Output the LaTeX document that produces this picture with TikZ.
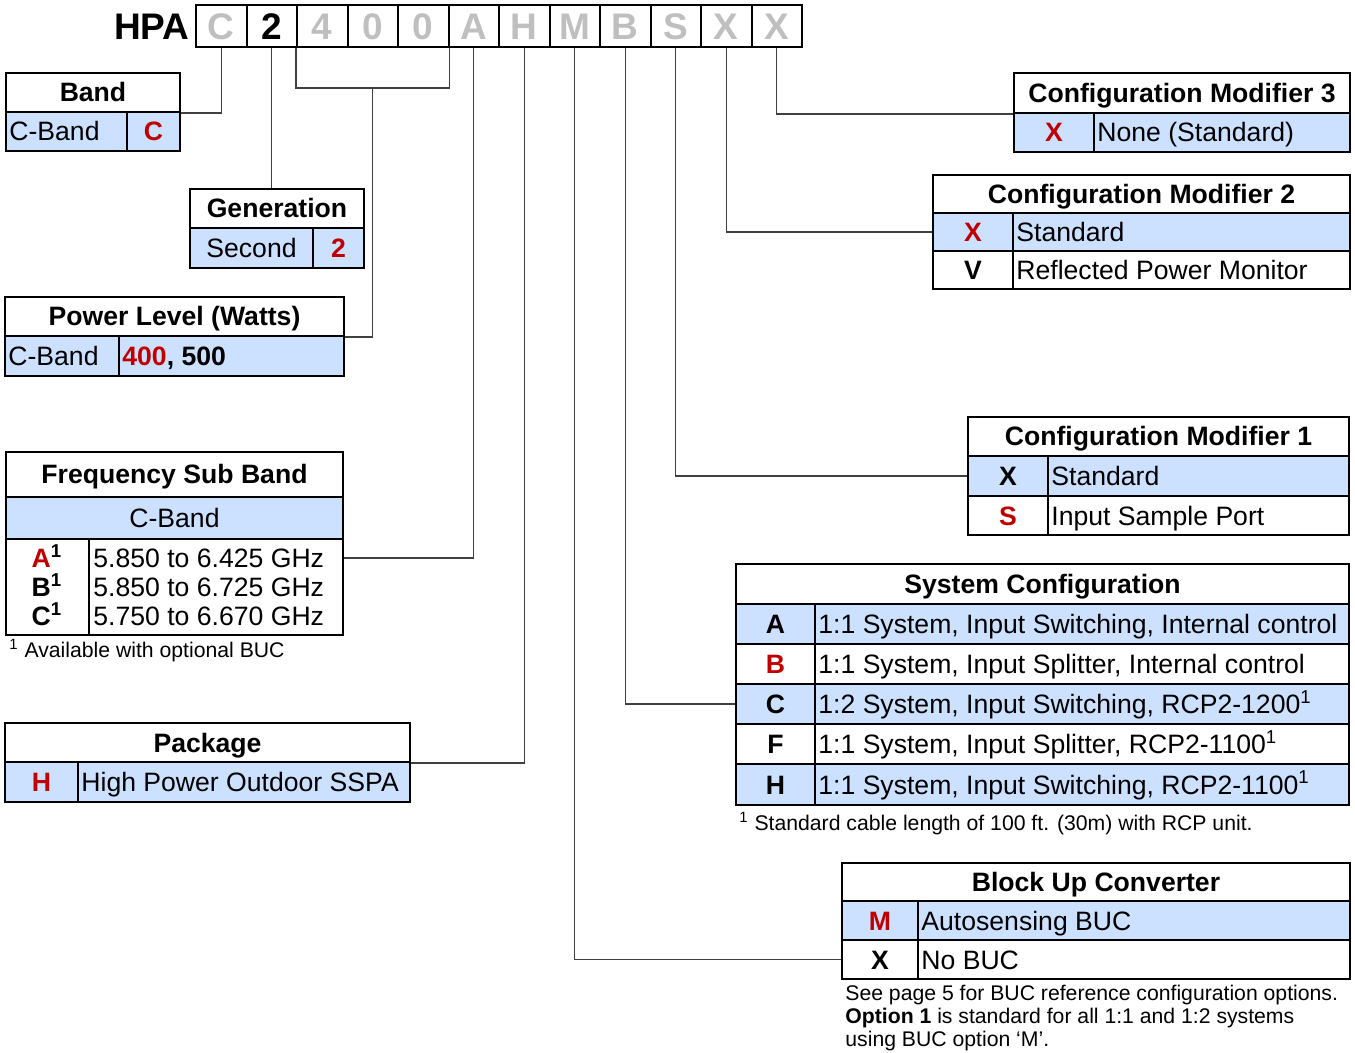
\documentclass[tikz,border=0pt]{standalone}
\usepackage{fontspec}
\setmainfont{Liberation Sans}
\usetikzlibrary{fit}

\definecolor{rowblue}{HTML}{CCE0FF}
\definecolor{codered}{HTML}{C00000}
\definecolor{codegrey}{HTML}{BFBFBF}
\definecolor{wiregrey}{HTML}{404040}
\newcommand\tblfont{\fontsize{13.3}{16}\selectfont}
\newcommand\notefont{\fontsize{10.6}{11.5}\selectfont}
\newcommand\codefont{\fontsize{18.5}{20}\selectfont\bfseries}

\tikzset{
  tbl/.style={draw, line width=1pt, inner sep=0pt},
  row/.style={tbl, fill=rowblue},
  cell/.style={tbl},
  ctr/.style={inner sep=0pt, text height=9.5pt, text depth=0pt},
  hdrtxt/.style={ctr, font=\tblfont\bfseries},
  keytxt/.style={ctr, font=\tblfont\bfseries},
  lbl/.style={ctr, anchor=west},
  note/.style={anchor=west, inner sep=0pt, font=\notefont},
  codebox/.style={draw, line width=1pt, inner sep=0pt},
  codetxt/.style={inner sep=0pt, font=\codefont, text height=13.3pt, text depth=0pt},
  wire/.style={draw=wiregrey, line width=0.6pt},
}

\begin{document}
\begin{tikzpicture}[x=0.5pt, y=-0.5pt, every node/.style={font=\tblfont}]
  \useasboundingbox (0,0) rectangle (1355,1053);

  % Bestellcode oben
  \node[codetxt, anchor=east] (hpa) at (190,26) {HPA};
  \foreach \l/\c [count=\i] in {C/codegrey, 2/black, 4/codegrey, 0/codegrey, 0/codegrey, A/codegrey,
                                H/codegrey, M/codegrey, B/codegrey, S/codegrey, X/codegrey, X/codegrey}
  {
    \node[codebox, fit={({196+50.5*(\i-1)},5) ({196+50.5*\i},47)}] (k\i) {};
    \node[codetxt, text=\c] (kt\i) at (k\i.center) {\l};
  }

  % Band
  \node[tbl, fit={(6,73) (180,112)}] (bandhead) {};
  \node[row, fit={(6,112) (127,151)}] (bandC) {};
  \node[row, fit={(127,112) (180,151)}] (bandCk) {};
  \node[hdrtxt] (bandheadt) at (bandhead.center) {Band};
  \node[lbl] (bandCt) at ([xshift=2pt]bandC.west) {C-Band};
  \node[keytxt, text=codered] (bandCkt) at (bandCk.center) {C};

  % Generation
  \node[tbl, fit={(190,189) (364,228)}] (genhead) {};
  \node[row, fit={(190,228) (313,268)}] (gen2) {};
  \node[row, fit={(313,228) (364,268)}] (gen2k) {};
  \node[hdrtxt] (genheadt) at (genhead.center) {Generation};
  \node[ctr] (gen2t) at (gen2.center) {Second};
  \node[keytxt, text=codered] (gen2kt) at (gen2k.center) {2};

  % Leistung
  \node[tbl, fit={(5,297) (344,336)}] (pwrhead) {};
  \node[row, fit={(5,336) (119,376)}] (pwrband) {};
  \node[row, fit={(119,336) (344,376)}] (pwrval) {};
  \node[hdrtxt] (pwrheadt) at (pwrhead.center) {Power Level (Watts)};
  \node[lbl] (pwrbandt) at ([xshift=2pt]pwrband.west) {C-Band};
  \node[lbl] (pwrvalt) at ([xshift=2pt]pwrval.west) {\textbf{\textcolor{codered}{400}, 500}};

  % Frequenz-Subband
  \node[tbl, fit={(6,452) (343,497)}] (fsbhead) {};
  \node[row, fit={(6,497) (343,539)}] (fsbband) {};
  \node[cell, fit={(6,539) (89,635)}] (fsbkeys) {};
  \node[cell, fit={(89,539) (343,635)}] (fsblist) {};
  \node[hdrtxt] (fsbheadt) at (fsbhead.center) {Frequency Sub Band};
  \node[ctr] (fsbbandt) at (fsbband.center) {C-Band};
  \node[keytxt] (fsbA) at (47,558) {\textcolor{codered}{A}\textsuperscript{1}};
  \node[keytxt] (fsbB) at (47,587) {B\textsuperscript{1}};
  \node[keytxt] (fsbC) at (47,616) {C\textsuperscript{1}};
  \node[lbl] (fA) at (93,558) {5.850 to 6.425 GHz};
  \node[lbl] (fB) at (93,587) {5.850 to 6.725 GHz};
  \node[lbl] (fC) at (93,616) {5.750 to 6.670 GHz};
  \node[note] (fsbnote) at (9,651) {\textsuperscript{1} Available with optional BUC};

  % Gehaeuse
  \node[tbl, fit={(5,723) (410,762)}] (pkghead) {};
  \node[row, fit={(5,762) (78,802)}] (pkgHk) {};
  \node[row, fit={(78,762) (410,802)}] (pkgH) {};
  \node[hdrtxt] (pkgheadt) at (pkghead.center) {Package};
  \node[keytxt, text=codered] (pkgHkt) at (pkgHk.center) {H};
  \node[lbl] (pkgHt) at ([xshift=2pt]pkgH.west) {High Power Outdoor SSPA};

  % Konfiguration 3
  \node[tbl, fit={(1014,73) (1350,113)}] (cm3head) {};
  \node[row, fit={(1014,113) (1094,152)}] (cm3Xk) {};
  \node[row, fit={(1094,113) (1350,152)}] (cm3X) {};
  \node[hdrtxt] (cm3headt) at (cm3head.center) {Configuration Modifier 3};
  \node[keytxt, text=codered] (cm3Xkt) at (cm3Xk.center) {X};
  \node[lbl] (cm3Xt) at ([xshift=2pt]cm3X.west) {None (Standard)};

  % Konfiguration 2
  \node[tbl, fit={(933,175) (1350,213)}] (cm2head) {};
  \node[row, fit={(933,213) (1013,251)}] (cm2Xk) {};
  \node[row, fit={(1013,213) (1350,251)}] (cm2X) {};
  \node[cell, fit={(933,251) (1013,289)}] (cm2Vk) {};
  \node[cell, fit={(1013,251) (1350,289)}] (cm2V) {};
  \node[hdrtxt] (cm2headt) at (cm2head.center) {Configuration Modifier 2};
  \node[keytxt, text=codered] (cm2Xkt) at (cm2Xk.center) {X};
  \node[keytxt] (cm2Vkt) at (cm2Vk.center) {V};
  \node[lbl] (cm2Xt) at ([xshift=2pt]cm2X.west) {Standard};
  \node[lbl] (cm2Vt) at ([xshift=2pt]cm2V.west) {Reflected Power Monitor};

  % Konfiguration 1
  \node[tbl, fit={(968,417) (1349,456)}] (cm1head) {};
  \node[row, fit={(968,456) (1048,496)}] (cm1Xk) {};
  \node[row, fit={(1048,456) (1349,496)}] (cm1X) {};
  \node[cell, fit={(968,496) (1048,535)}] (cm1Sk) {};
  \node[cell, fit={(1048,496) (1349,535)}] (cm1S) {};
  \node[hdrtxt] (cm1headt) at (cm1head.center) {Configuration Modifier 1};
  \node[keytxt] (cm1Xkt) at (cm1Xk.center) {X};
  \node[keytxt, text=codered] (cm1Skt) at (cm1Sk.center) {S};
  \node[lbl] (cm1Xt) at ([xshift=2pt]cm1X.west) {Standard};
  \node[lbl] (cm1St) at ([xshift=2pt]cm1S.west) {Input Sample Port};

  % Systemkonfiguration
  \node[tbl, fit={(736,564) (1349,604)}] (schead) {};
  \node[row, fit={(736,604) (815,644)}] (scAk) {};
  \node[row, fit={(815,604) (1349,644)}] (scA) {};
  \node[cell, fit={(736,644) (815,684)}] (scBk) {};
  \node[cell, fit={(815,644) (1349,684)}] (scB) {};
  \node[row, fit={(736,684) (815,724)}] (scCk) {};
  \node[row, fit={(815,684) (1349,724)}] (scC) {};
  \node[cell, fit={(736,724) (815,764)}] (scFk) {};
  \node[cell, fit={(815,724) (1349,764)}] (scF) {};
  \node[row, fit={(736,764) (815,805)}] (scHk) {};
  \node[row, fit={(815,764) (1349,805)}] (scH) {};
  \node[hdrtxt] (scheadt) at (schead.center) {System Configuration};
  \node[keytxt] (scAkt) at (scAk.center) {A};
  \node[keytxt, text=codered] (scBkt) at (scBk.center) {B};
  \node[keytxt] (scCkt) at (scCk.center) {C};
  \node[keytxt] (scFkt) at (scFk.center) {F};
  \node[keytxt] (scHkt) at (scHk.center) {H};
  \node[lbl] (scAt) at ([xshift=2pt]scA.west) {1:1 System, Input Switching, Internal control};
  \node[lbl] (scBt) at ([xshift=2pt]scB.west) {1:1 System, Input Splitter, Internal control};
  \node[lbl] (scCt) at ([xshift=2pt]scC.west) {1:2 System, Input Switching, RCP2-1200\textsuperscript{1}};
  \node[lbl] (scFt) at ([xshift=2pt]scF.west) {1:1 System, Input Splitter, RCP2-1100\textsuperscript{1}};
  \node[lbl] (scHt) at ([xshift=2pt]scH.west) {1:1 System, Input Switching, RCP2-1100\textsuperscript{1}};
  \node[note] (scnote) at (739,824) {\textsuperscript{1} Standard cable length of 100 ft. (30m) with RCP unit.};

  % BUC
  \node[tbl, fit={(842,863) (1350,901)}] (buchead) {};
  \node[row, fit={(842,901) (918,940)}] (bucMk) {};
  \node[row, fit={(918,901) (1350,940)}] (bucM) {};
  \node[cell, fit={(842,940) (918,979)}] (bucXk) {};
  \node[cell, fit={(918,940) (1350,979)}] (bucX) {};
  \node[hdrtxt] (bucheadt) at (buchead.center) {Block Up Converter};
  \node[keytxt, text=codered] (bucMkt) at (bucMk.center) {M};
  \node[keytxt] (bucXkt) at (bucXk.center) {X};
  \node[lbl] (bucMt) at ([xshift=2pt]bucM.west) {Autosensing BUC};
  \node[lbl] (bucXt) at ([xshift=2pt]bucX.west) {No BUC};
  \node[note, anchor=north west, align=left] (bucnote) at (845,985)
    {See page 5 for BUC reference configuration options.\\
     \textbf{Option 1} is standard for all 1:1 and 1:2 systems\\
     using BUC option ‘M’.};

  % Verbindungslinien
  \coordinate (pwrjoin) at (k4.south |- 0,88);
  \draw[wire] (k1.south) |- (bandhead.south east);
  \draw[wire] (k2.south) -- (k2.south |- genhead.north);
  \draw[wire] (k3.south west) -- (k3.south west |- pwrjoin) -- (k5.south east |- pwrjoin) -- (k5.south east);
  \draw[wire] (pwrjoin) |- (pwrhead.south east);
  \draw[wire] (k6.south) |- (fA -| fsblist.east);
  \draw[wire] (k7.south) |- (pkghead.south east);
  \draw[wire] (k8.south) |- (bucXk.west);
  \draw[wire] (k9.south) |- (scCk.west);
  \draw[wire] (k10.south) |- (cm1Xk.west);
  \draw[wire] (k11.south) |- (cm2Xk.west);
  \draw[wire] (k12.south) |- (cm3head.south west);
\end{tikzpicture}
\end{document}
